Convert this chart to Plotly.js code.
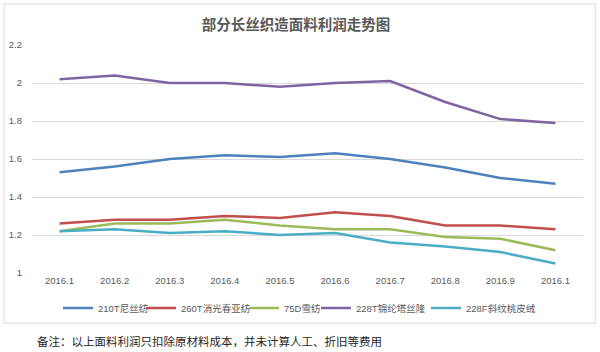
<!DOCTYPE html>
<html>
<head>
<meta charset="utf-8">
<script src="https://cdn.plot.ly/plotly-3.0.1.min.js"></script>
<style>html,body{margin:0;padding:0;background:#fff;}#chart{width:600px;height:352px;}</style>
</head>
<body>
<div id="chart"></div>
<script>
var categories = ['2016.1','2016.2','2016.3','2016.4','2016.5','2016.6','2016.7','2016.8','2016.9','2016.10'];
var tickLabels = ['2016.1','2016.2','2016.3','2016.4','2016.5','2016.6','2016.7','2016.8','2016.9','2016.1'];
var seriesNames = ['210T尼丝纺','260T消光春亚纺','75D雪纺','228T锦纶塔丝隆','228F斜纹桃皮绒'];
var s210T = [1.53, 1.56, 1.60, 1.62, 1.61, 1.63, 1.60, 1.555, 1.50, 1.47];
var s260T = [1.26, 1.28, 1.28, 1.30, 1.29, 1.32, 1.30, 1.25, 1.25, 1.23];
var s75D  = [1.22, 1.26, 1.26, 1.28, 1.25, 1.23, 1.23, 1.19, 1.18, 1.12];
var s228T = [2.02, 2.04, 2.00, 2.00, 1.98, 2.00, 2.01, 1.90, 1.81, 1.79];
var s228F = [1.22, 1.23, 1.21, 1.22, 1.20, 1.21, 1.16, 1.14, 1.11, 1.05];
var colors = ['#4F81BD','#C0504D','#9BBB59','#8064A2','#4BACC6'];
var allSeries = [s210T, s260T, s75D, s228T, s228F];

var font = 'Liberation Sans, Noto Sans CJK SC, sans-serif';
var legendIds = ['legend','legend2','legend3','legend4','legend5'];
var legendLeftPx = [58, 141, 244, 316, 426];

var traces = allSeries.map(function(vals, i){
  return {
    x: categories, y: vals, name: seriesNames[i], type: 'scatter', mode: 'lines',
    line: {color: colors[i], width: 2.5}, legend: legendIds[i]
  };
});

var L = 32, R = 583.3, T = 45, B = 272.7, W = 600, H = 352;
var pw = R - L, ph = B - T;
function px(x){ return (x - L) / pw; }
function py(y){ return (B - y) / ph; }

var layout = {
  width: W, height: H,
  margin: {l: L, r: W - R, t: T, b: H - B, pad: 0},
  paper_bgcolor: '#ffffff', plot_bgcolor: '#ffffff',
  font: {family: font, size: 9, color: '#595959'},
  title: {text: '<b>部分长丝织造面料利润走势图</b>', xref: 'container', yref: 'container',
          x: 296/W, y: 1 - 25/H, xanchor: 'center', yanchor: 'middle',
          font: {family: 'Noto Sans CJK SC, sans-serif', size: 14.5, color: '#595959'}},
  xaxis: {type: 'category', categoryorder: 'array', categoryarray: categories,
          tickvals: categories, ticktext: tickLabels, range: [-0.5, 9.5],
          showgrid: false, zeroline: false, showline: false, ticks: '',
          tickfont: {size: 9.5, color: '#595959'}, fixedrange: true},
  yaxis: {range: [1, 2.2], tick0: 1, dtick: 0.2, showgrid: true, gridcolor: '#d9d9d9', gridwidth: 1,
          zeroline: false, showline: false, ticks: '', ticklabelstandoff: 9,
          tickfont: {size: 9.5, color: '#595959'}, fixedrange: true},
  showlegend: true,
  shapes: [{type: 'rect', xref: 'paper', yref: 'paper', x0: px(4), x1: px(596), y0: py(322.7), y1: py(4),
            line: {color: '#d9d9d9', width: 1}, fillcolor: 'rgba(0,0,0,0)', layer: 'below'}],
  annotations: [{text: '备注：以上面料利润只扣除原材料成本，并未计算人工、折旧等费用', xref: 'paper', yref: 'paper',
                 x: px(35), y: py(341), xanchor: 'left', yanchor: 'middle', showarrow: false,
                 font: {family: 'Noto Sans CJK SC, sans-serif', size: 11.5, color: '#262626'}}]
};
legendIds.forEach(function(id, i){
  layout[id] = {orientation: 'h', xref: 'container', yref: 'container',
                x: legendLeftPx[i] / W, xanchor: 'left', y: 1 - 308/H, yanchor: 'middle',
                font: {family: font, size: 9.5, color: '#595959'}, bgcolor: 'rgba(0,0,0,0)',
                itemwidth: 30, tracegroupgap: 0};
});
Plotly.newPlot('chart', traces, layout, {displayModeBar: false, staticPlot: true});
</script>
</body>
</html>
